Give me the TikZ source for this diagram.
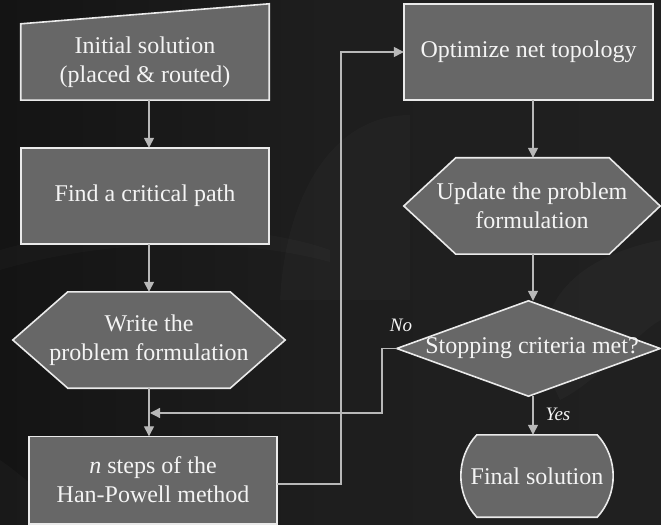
\documentclass[tikz,border=0pt]{standalone}
\usepackage{fontspec}
\setmainfont{Liberation Serif}
\usetikzlibrary{arrows.meta,calc}
\pgfdeclarelayer{bg}
\pgfsetlayers{bg,main}
\definecolor{bgl}{HTML}{141414}
\definecolor{bgm}{HTML}{1E1E1E}
\definecolor{bgr}{HTML}{202020}
\definecolor{boxfill}{HTML}{676767}
\definecolor{edgec}{HTML}{EAEAEA}
\definecolor{wirec}{HTML}{B8B8B8}
\definecolor{txtc}{HTML}{F4F4F4}
\begin{document}
\begin{tikzpicture}[x=1bp,y=-1bp,
  lbl/.style={inner sep=0pt, text=txtc, font=\fontsize{24bp}{29bp}\selectfont, align=center},
  blk/.style={fill=boxfill, draw=edgec, line width=1.6bp, line join=miter},
  conn/.style={draw=wirec, line width=1.3bp, -{Triangle[width=10bp,length=10bp]}},
  lab/.style={text=txtc, font=\fontsize{19bp}{21bp}\selectfont\itshape, inner sep=0pt}]

\begin{pgfonlayer}{bg}
  \shade[left color=bgl, right color=bgr, middle color=bgm] (0,0) rectangle (661,525);
  \fill[white, opacity=0.02] (0,250) .. controls (120,215) and (260,225) .. (330,250)
     -- (330,262) .. controls (250,240) and (120,235) .. (0,270) -- cycle;
  \fill[white, opacity=0.025] (661,240) .. controls (560,260) and (520,320) .. (560,400)
     .. controls (600,380) and (640,330) .. (661,320) -- cycle;
  \fill[white, opacity=0.02] (280,300) .. controls (285,200) and (330,115) .. (410,115)
     -- (410,300) -- cycle;
  \fill[white, opacity=0.025] (0,460) .. controls (15,470) and (25,480) .. (40,490)
     -- (40,525) -- (0,525) -- cycle;
\end{pgfonlayer}
\useasboundingbox (0,0) rectangle (661,525);

% nodes
\node[lbl, minimum width=248bp, minimum height=76bp] (init) at (145,62) {Initial solution\\(placed \& routed)};
\node[lbl, minimum width=248bp, minimum height=96bp] (crit) at (145,196) {Find a critical path};
\node[lbl, minimum width=272bp, minimum height=96bp] (hex1) at (149,340) {Write the\\problem formulation};
\node[lbl, minimum width=248bp, minimum height=87bp] (hp) at (153,480) {\textit{n} steps of the\\Han-Powell method};
\node[lbl, minimum width=249bp, minimum height=96bp] (opt) at (528.5,52) {Optimize net topology};
\node[lbl, minimum width=256bp, minimum height=96bp] (hex2) at (532,206) {Update the problem\\formulation};
\node[lbl, minimum width=263bp, minimum height=95bp] (stop) at (528.5,348.5) {\hspace*{7bp}Stopping criteria met?};
\node[lbl, minimum width=152bp, minimum height=82bp] (final) at (537,476) {Final solution};

\coordinate (lc) at (149,0);
\coordinate (rc) at (533,0);
\coordinate (loopx) at (341,0);
\coordinate (nox) at (382,413);

% shapes
\begin{pgfonlayer}{bg}
  \path[blk] (init.south west) -- (init.north west) -- ($(init.north east)+(0,-20)$)
     -- (init.south east) -- cycle;
  \path[blk] (crit.south west) rectangle (crit.north east);
  \path[blk] (hex1.west) -- ($(hex1.north west)+(55,0)$) -- ($(hex1.north east)+(-55,0)$)
     -- (hex1.east) -- ($(hex1.south east)+(-55,0)$) -- ($(hex1.south west)+(55,0)$) -- cycle;
  \path[blk] (hp.south west) rectangle (hp.north east);
  \path[blk] (opt.south west) rectangle (opt.north east);
  \path[blk] (hex2.west) -- ($(hex2.north west)+(52,0)$) -- ($(hex2.north east)+(-51,0)$)
     -- (hex2.east) -- ($(hex2.south east)+(-51,0)$) -- ($(hex2.south west)+(52,0)$) -- cycle;
  \path[blk] (stop.west) -- (stop.north) -- (stop.east) -- (stop.south) -- cycle;
  \path[blk] ($(final.north west)+(16,0)$) -- ($(final.north east)+(-16,0)$)
     .. controls ($(final.north east)+(5.3,23.1)$) and ($(final.south east)+(5.3,-23.1)$) .. ($(final.south east)+(-16,0)$)
     -- ($(final.south west)+(16,0)$)
     .. controls ($(final.south west)+(-5.3,-23.1)$) and ($(final.north west)+(-5.3,23.1)$) .. cycle;
\end{pgfonlayer}

% connectors
\draw[conn] (init.south -| lc) -- (crit.north -| lc);
\draw[conn] (crit.south -| lc) -- (hex1.north -| lc);
\draw[conn] (hex1.south -| lc) -- (hp.north -| lc);
\draw[conn] ([yshift=-4bp]hp.east) -- ([yshift=-4bp]hp.east -| loopx) -- (opt.west -| loopx) -- (opt.west);
\draw[conn] (opt.south -| rc) -- (hex2.north -| rc);
\draw[conn] (hex2.south -| rc) -- (stop.north -| rc);
\draw[conn] (stop.south -| rc) -- (final.north -| rc);
\draw[conn] (stop.west) -| (nox) -- ($(nox -| lc)+(1,0)$);

\node[lab] (no) at (401,325) {No};
\node[lab] (yes) at (558,414) {Yes};
\end{tikzpicture}
\end{document}
